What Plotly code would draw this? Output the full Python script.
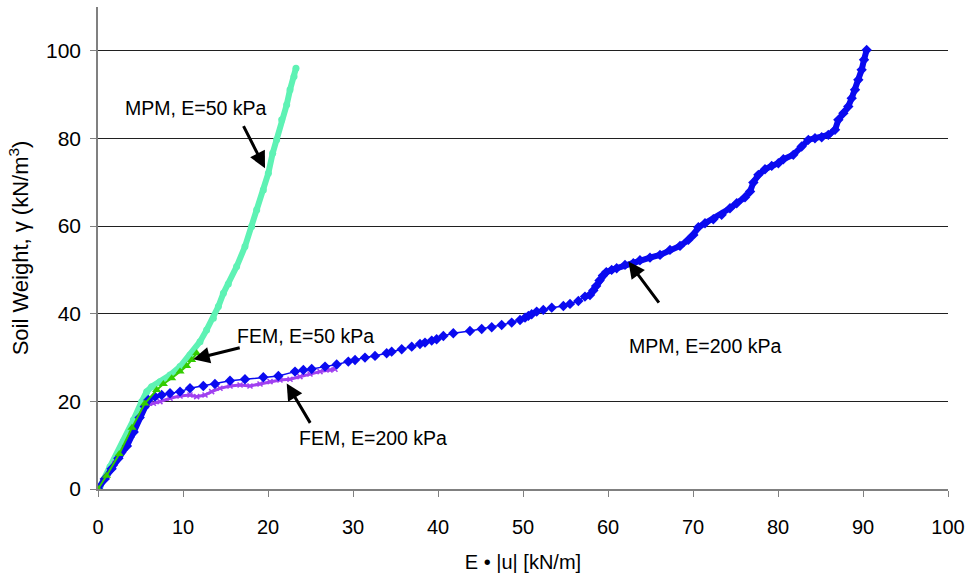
import plotly.graph_objects as go

# ---------------- data ----------------
# MPM, E=200 kPa (blue diamonds)
mpm200_x = [0, 0.8, 1.6, 2.4, 3.4, 4.2, 4.9, 5.5, 5.92,
            6.71, 7.49, 8.47, 9.65, 10.82, 12.39, 13.76, 15.53, 17.29, 19.45, 21.22, 23.18,
            24.16, 25.14, 26.71, 28.08, 29.45, 30.24, 31.41, 32.59, 33.96, 34.55, 35.73,
            36.91, 37.88, 38.47, 39.26, 39.84, 40.63, 41.8, 43.76, 45.14, 46.32, 47.49,
            48.67, 49.65, 50.24, 50.63, 51.02, 51.61, 52.39, 53.38, 54.75, 55.53, 56.51,
            57.29, 57.88, 58.27, 58.6, 59.0, 59.4, 59.8, 60.43, 61.02, 62.0, 62.98,
            63.76, 64.94, 66.12, 67.29, 68.47, 69.45, 70.04, 70.63, 71.41, 72.39, 73.37,
            74.35, 75.14, 76.12, 76.71, 77.1, 77.69, 78.47, 79.26, 80.04, 80.63, 81.8,
            82.78, 83.57, 84.35, 85.14, 85.92, 86.71, 87.1, 87.69, 88.27, 88.67, 89.06,
            89.45, 89.84, 90.12, 90.43]
mpm200_y = [0, 2.3, 4.6, 7.0, 9.8, 13.0, 16.3, 18.8, 20.32,
            21.08, 21.46, 21.84, 22.22, 22.98, 23.52, 23.97, 24.73, 25.03, 25.49, 25.8, 26.79,
            27.17, 27.4, 27.93, 28.4, 29.07, 29.45, 29.99, 30.37, 30.97, 31.35, 31.89,
            32.49, 33.1, 33.41, 33.87, 34.17, 34.93, 35.55, 36.07, 36.53, 36.91, 37.44,
            37.97, 38.58, 39.11, 39.5, 39.88, 40.48, 40.87, 41.39, 41.78, 42.24, 42.92,
            43.91, 44.29, 45.3, 46.3, 47.6, 48.7, 49.5, 50.0, 50.38, 51.14, 51.52,
            52.2, 52.8, 53.42, 54.57, 55.48, 56.85, 57.99, 59.74, 60.65, 61.56, 62.56,
            64.08, 65.22, 66.59, 67.88, 69.94, 71.69, 72.98, 73.74, 74.35, 75.26, 76.26,
            78.15, 79.68, 80.06, 80.29, 80.82, 81.96, 84.25, 85.77, 87.3, 89.2, 91.1,
            93.38, 95.66, 97.95, 100.2]

# MPM, E=50 kPa (light green circles)
mpm50_x = [0, 0.24, 1.41, 2.98, 4.16, 5.14, 5.73, 6.31, 7.29, 8.47, 9.65, 10.82, 12.0, 12.78,
           13.57, 14.16, 14.75, 15.33, 16.31, 17.29, 18.08, 18.67, 19.45, 20.04, 20.55, 21.02,
           21.61, 22.2, 22.59, 23.06, 23.29]
mpm50_y = [0, 0.53, 5.1, 10.81, 15.75, 19.94, 22.22, 23.36, 24.5, 26.03, 27.93, 30.59, 33.63, 36.3,
           38.97, 41.63, 44.67, 46.8, 50.76, 55.33, 59.89, 63.7, 68.26, 72.07, 76.64, 79.68,
           84.25, 87.67, 91.1, 94.14, 96.05]

# FEM, E=50 kPa (green triangles)
fem50_x = [0, 1.0, 2.5, 4.0, 5.5, 6.9, 7.69, 8.67, 9.65, 10.43, 11.02, 11.61]
fem50_y = [0, 3.0, 8.0, 14.0, 19.5, 22.6, 23.97, 25.27, 26.79, 28.08, 29.45, 30.97]

# FEM, E=200 kPa (purple crosses)
fem200_x = [0, 1.0, 2.0, 3.0, 4.0, 5.0, 5.7, 6.51, 7.29, 8.47, 9.65, 10.82, 11.61, 12.59, 13.37,
            14.35, 15.53, 16.71, 17.88, 19.06, 20.24, 21.41, 22.59, 23.76, 24.94, 26.12, 27.29,
            27.88]
fem200_y = [0, 2.8, 5.8, 8.8, 12.3, 16.5, 19.0, 19.56, 19.94, 20.7, 21.23, 21.46, 21.08, 21.46,
            22.22, 22.98, 23.52, 23.74, 23.52, 23.97, 24.5, 24.89, 25.03, 25.65, 26.26, 26.79,
            27.17, 27.32]

x_ticks = [0, 10, 20, 30, 40, 50, 60, 70, 80, 90, 100]
y_ticks = [0, 20, 40, 60, 80, 100]

FONT = "Liberation Sans, Arial, sans-serif"
BLUE = "#0A0AF0"
LGREEN = "#5EF2B4"
PURPLE = "#A040F0"
GREEN = "#33CC00"

fig = go.Figure()

fig.add_trace(go.Scatter(x=mpm50_x, y=mpm50_y, mode="lines+markers",
                         line=dict(color=LGREEN, width=6),
                         marker=dict(symbol="circle", size=7, color=LGREEN),
                         name="MPM, E=50 kPa", showlegend=False))
fig.add_trace(go.Scatter(x=fem200_x, y=fem200_y, mode="lines+markers",
                         line=dict(color=PURPLE, width=3),
                         marker=dict(symbol="x-thin", size=5, color=PURPLE,
                                     line=dict(color=PURPLE, width=1.5)),
                         name="FEM, E=200 kPa", showlegend=False))

# densely sampled parts of the MPM E=200 record appear as a continuous band
lo = [i for i, v in enumerate(mpm200_x) if v <= 6]
hi = [i for i, v in enumerate(mpm200_x) if v >= 57]
for idx in (lo, hi):
    fig.add_trace(go.Scatter(x=[mpm200_x[i] for i in idx], y=[mpm200_y[i] for i in idx],
                             mode="lines", line=dict(color=BLUE, width=6),
                             hoverinfo="skip", showlegend=False))
fig.add_trace(go.Scatter(x=mpm200_x, y=mpm200_y, mode="lines+markers",
                         line=dict(color=BLUE, width=1.5),
                         marker=dict(symbol="diamond", size=8, color=BLUE),
                         name="MPM, E=200 kPa", showlegend=False))
fig.add_trace(go.Scatter(x=fem50_x, y=fem50_y, mode="lines+markers",
                         line=dict(color=GREEN, width=2),
                         marker=dict(symbol="triangle-up", size=8, color=GREEN),
                         name="FEM, E=50 kPa", showlegend=False))

# arrows (tip in data coords, tail offset in px)
arrows = [
    (19.65, 73.2, -23, -45),
    (11.2, 29.6, 48, -12),
    (22.2, 24.1, 25, 42),
    (62.4, 51.9, 32, 43),
]
for x, y, ax, ay in arrows:
    fig.add_annotation(x=x, y=y, ax=ax, ay=ay, text=".", showarrow=True,
                       font=dict(size=6, color="rgba(0,0,0,0)"), borderpad=0,
                       arrowhead=2, arrowsize=1.1, arrowwidth=3, arrowcolor="black",
                       standoff=0, startstandoff=0)

labels = [
    ("MPM, E=50 kPa", 11.53, 87.0),
    ("FEM, E=50 kPa", 24.4, 34.9),
    ("FEM, E=200 kPa", 32.35, 11.6),
    ("MPM, E=200 kPa", 71.4, 32.6),
]
for t, x, y in labels:
    fig.add_annotation(x=x, y=y, text=t, showarrow=False,
                       font=dict(family=FONT, size=19.5, color="black"))

fig.update_layout(
    width=975, height=581,
    margin=dict(l=98, r=27, t=7, b=92),
    paper_bgcolor="white", plot_bgcolor="white",
    font=dict(family=FONT, size=20, color="black"),
)
fig.update_xaxes(range=[0, 100], tickvals=x_ticks, showgrid=False, zeroline=False,
                 showline=True, linecolor="#808080", linewidth=1.5,
                 ticks="outside", ticklen=6, tickcolor="#808080",
                 tickfont=dict(size=20), ticklabelstandoff=13,
                 title=dict(text="E • |u| [kN/m]", font=dict(size=20), standoff=18))
fig.update_yaxes(range=[0, 110], tickvals=y_ticks, showgrid=True, gridcolor="#202020",
                 gridwidth=1, zeroline=False,
                 showline=True, linecolor="#808080", linewidth=1.5,
                 ticks="outside", ticklen=6, tickcolor="#808080",
                 tickfont=dict(size=21), ticklabelstandoff=5,
                 title=dict(text="Soil Weight, γ (kN/m<sup>3</sup>)", font=dict(size=22),
                            standoff=11))

fig.write_html("out.html")
